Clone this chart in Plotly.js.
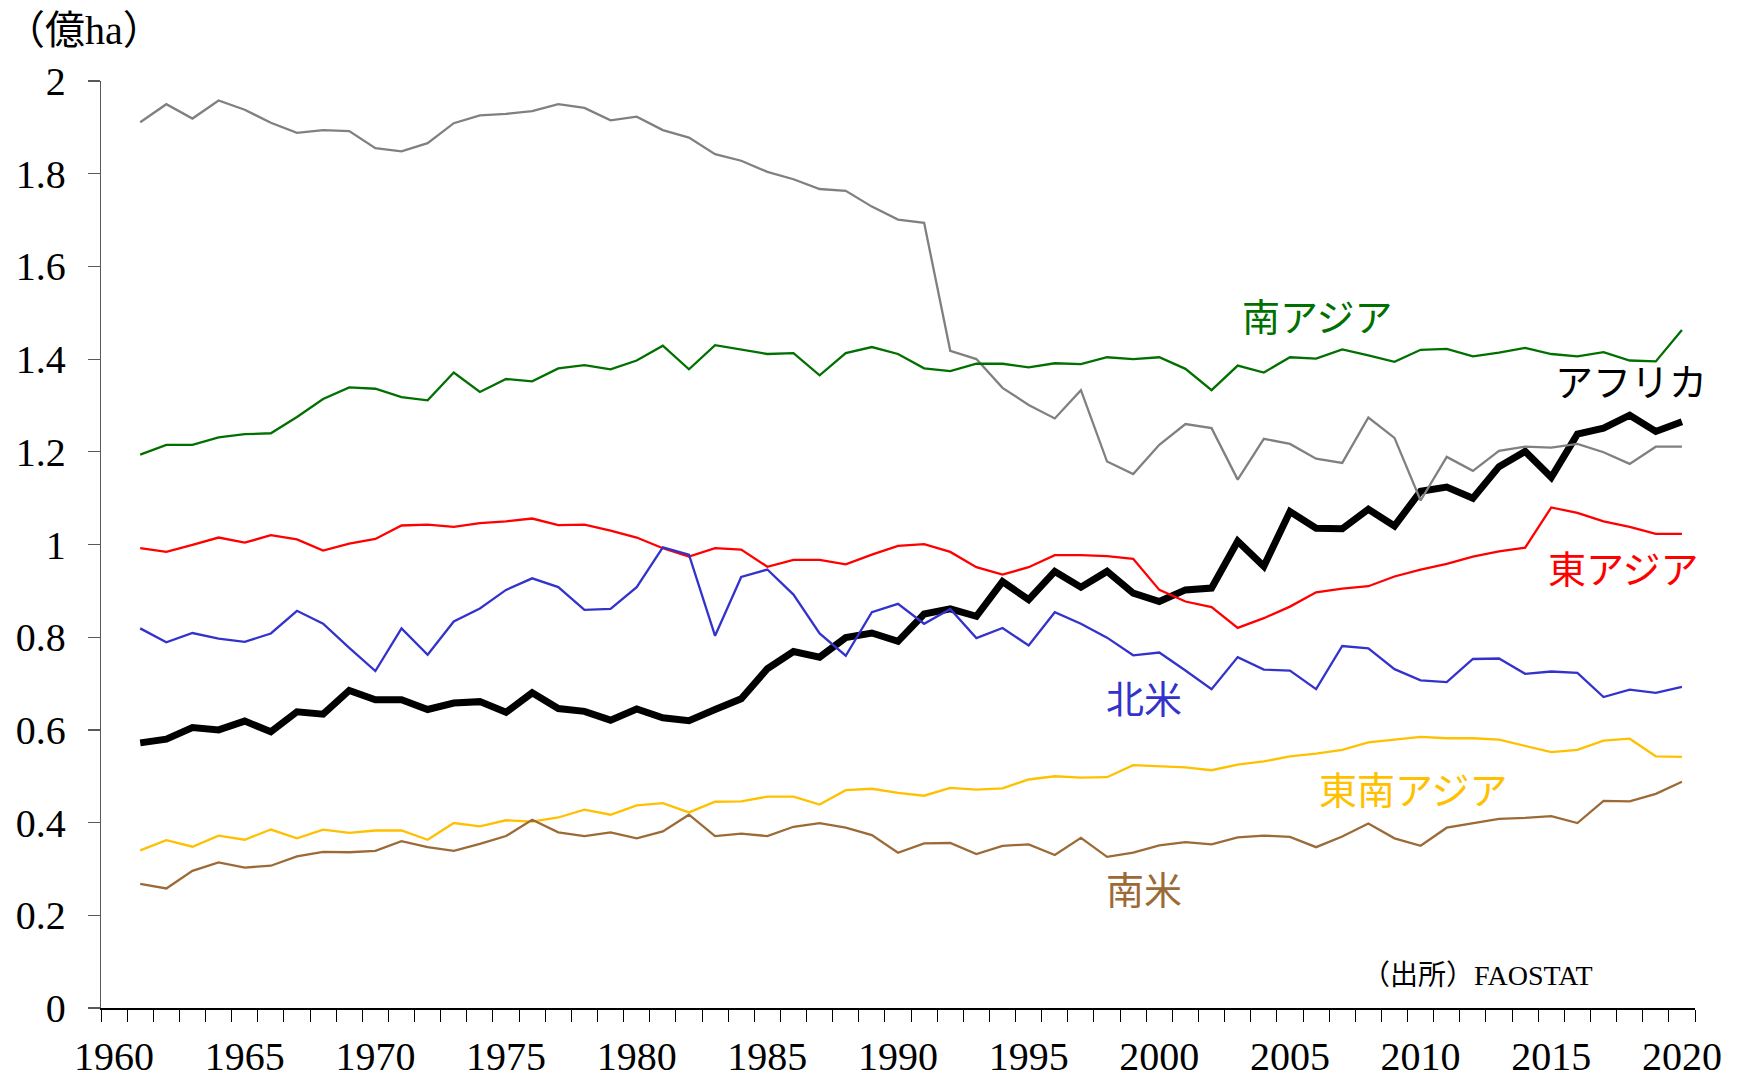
<!DOCTYPE html>
<html>
<head>
<meta charset="utf-8">
<script src="https://cdn.plot.ly/plotly-3.0.1.min.js"></script>
<style>
  html, body { margin: 0; padding: 0; background: #fff; }
  #chart { width: 1743px; height: 1078px; }
</style>
</head>
<body>
<div id="chart"></div>
<script>
// Years 1961-2020
const years = [];
for (let y = 1961; y <= 2020; y++) years.push(y);

// Area (億ha)
const africa = [
  0.572, 0.580, 0.605, 0.600, 0.619, 0.596, 0.639, 0.634, 0.685, 0.665,
  0.665, 0.644, 0.658, 0.661, 0.638, 0.680, 0.646, 0.640, 0.621, 0.645,
  0.626, 0.620, 0.644, 0.667, 0.732, 0.769, 0.757, 0.799, 0.809, 0.791,
  0.850, 0.861, 0.845, 0.920, 0.881, 0.942, 0.908, 0.942, 0.895, 0.877,
  0.902, 0.906, 1.007, 0.953, 1.071, 1.035, 1.034, 1.076, 1.040, 1.115,
  1.124, 1.100, 1.168, 1.201, 1.145, 1.238, 1.251, 1.279, 1.244, 1.265
];
const europe = [
  1.911, 1.950, 1.919, 1.958, 1.938, 1.910, 1.888, 1.894, 1.892, 1.855,
  1.848, 1.866, 1.909, 1.926, 1.929, 1.935, 1.950, 1.942, 1.915, 1.923,
  1.894, 1.878, 1.842, 1.828, 1.804, 1.788, 1.767, 1.763, 1.729, 1.701,
  1.694, 1.418, 1.400, 1.338, 1.301, 1.272, 1.333, 1.179, 1.152, 1.215,
  1.260, 1.251, 1.140, 1.228, 1.217, 1.185, 1.176, 1.274, 1.230, 1.095,
  1.189, 1.159, 1.202, 1.211, 1.209, 1.217, 1.199, 1.174, 1.211, 1.211
];
const southAsia = [
  1.194, 1.215, 1.215, 1.231, 1.238, 1.240, 1.275, 1.314, 1.339, 1.336,
  1.318, 1.311, 1.371, 1.329, 1.357, 1.352, 1.380, 1.387, 1.378, 1.397,
  1.429, 1.378, 1.430, 1.420, 1.411, 1.413, 1.365, 1.413, 1.426, 1.411,
  1.380, 1.374, 1.390, 1.390, 1.382, 1.391, 1.389, 1.404, 1.400, 1.404,
  1.379, 1.333, 1.386, 1.371, 1.404, 1.401, 1.421, 1.408, 1.394, 1.420,
  1.422, 1.406, 1.414, 1.424, 1.411, 1.406, 1.415, 1.397, 1.395, 1.463
];
const eastAsia = [
  0.992, 0.984, 0.999, 1.015, 1.004, 1.020, 1.011, 0.987, 1.002, 1.012,
  1.041, 1.043, 1.038, 1.046, 1.050, 1.056, 1.042, 1.043, 1.030, 1.015,
  0.992, 0.974, 0.992, 0.989, 0.952, 0.967, 0.967, 0.957, 0.978, 0.997,
  1.001, 0.984, 0.951, 0.935, 0.951, 0.977, 0.977, 0.975, 0.969, 0.902,
  0.877, 0.865, 0.820, 0.841, 0.866, 0.897, 0.905, 0.910, 0.931, 0.946,
  0.958, 0.974, 0.985, 0.993, 1.080, 1.068, 1.050, 1.038, 1.023, 1.023
];
const northAmerica = [
  0.819, 0.789, 0.809, 0.797, 0.790, 0.808, 0.857, 0.829, 0.777, 0.727,
  0.819, 0.762, 0.834, 0.862, 0.902, 0.927, 0.908, 0.859, 0.861, 0.908,
  0.994, 0.978, 0.803, 0.930, 0.946, 0.892, 0.808, 0.760, 0.854, 0.872,
  0.829, 0.861, 0.798, 0.820, 0.782, 0.854, 0.829, 0.799, 0.761, 0.767,
  0.728, 0.688, 0.757, 0.730, 0.728, 0.688, 0.781, 0.776, 0.731, 0.707,
  0.703, 0.753, 0.754, 0.721, 0.726, 0.723, 0.671, 0.687, 0.680, 0.693
];
const southeastAsia = [
  0.340, 0.362, 0.348, 0.372, 0.363, 0.385, 0.366, 0.385, 0.378, 0.383,
  0.383, 0.363, 0.399, 0.392, 0.405, 0.402, 0.411, 0.428, 0.417, 0.437,
  0.442, 0.422, 0.445, 0.446, 0.456, 0.456, 0.439, 0.470, 0.473, 0.464,
  0.458, 0.475, 0.471, 0.474, 0.493, 0.500, 0.497, 0.498, 0.524, 0.521,
  0.519, 0.513, 0.525, 0.532, 0.543, 0.549, 0.557, 0.573, 0.579, 0.585,
  0.582, 0.582, 0.579, 0.566, 0.552, 0.557, 0.577, 0.581, 0.543, 0.542
];
const southAmerica = [
  0.268, 0.258, 0.296, 0.314, 0.303, 0.307, 0.327, 0.337, 0.336, 0.339,
  0.360, 0.347, 0.339, 0.354, 0.371, 0.406, 0.379, 0.371, 0.379, 0.366,
  0.381, 0.417, 0.371, 0.376, 0.371, 0.391, 0.399, 0.389, 0.373, 0.335,
  0.355, 0.356, 0.332, 0.350, 0.353, 0.330, 0.367, 0.326, 0.335, 0.351,
  0.358, 0.353, 0.368, 0.372, 0.369, 0.347, 0.370, 0.398, 0.366, 0.350,
  0.389, 0.399, 0.408, 0.410, 0.414, 0.399, 0.447, 0.446, 0.462, 0.488
];

const xTickVals = [1960, 1965, 1970, 1975, 1980, 1985, 1990, 1995, 2000, 2005, 2010, 2015, 2020];
const xTickText = ['1960', '1965', '1970', '1975', '1980', '1985', '1990', '1995', '2000', '2005', '2010', '2015', '2020'];
const yTickVals = [0, 0.2, 0.4, 0.6, 0.8, 1, 1.2, 1.4, 1.6, 1.8, 2];
const yTickText = ['0', '0.2', '0.4', '0.6', '0.8', '1', '1.2', '1.4', '1.6', '1.8', '2'];

const seriesNames = ['アフリカ', '欧州', '南アジア', '東アジア', '北米', '東南アジア', '南米'];
const seriesData = [africa, europe, southAsia, eastAsia, northAmerica, southeastAsia, southAmerica];
const seriesColors = ['#000000', '#808080', '#007000', '#FF0000', '#3333CC', '#FFC000', '#9C6A36'];
const seriesWidths = [7, 2.3, 2.3, 2.3, 2.3, 2.3, 2.3];

const traces = seriesNames.map((n, i) => ({
  type: 'scatter', mode: 'lines', name: n, x: years, y: seriesData[i],
  line: { color: seriesColors[i], width: seriesWidths[i], shape: 'linear' },
  hoverinfo: 'skip', showlegend: false
}));

// label positions (x in year units, y in value units)
const labelX = [2018.05, 1977.46, 2006.03, 2017.74, 1999.42, 2009.71, 1999.42];
const labelY = [1.355, 2.002, 1.497, 0.952, 0.672, 0.4755, 0.260];
const labelColors = ['#000000', '#888888', '#007000', '#FF0000', '#3333CC', '#FFC000', '#9C6A36'];

const annotations = seriesNames.map((n, i) => ({
  text: n, x: labelX[i], y: labelY[i], xref: 'x', yref: 'y',
  xanchor: 'center', yanchor: 'middle', showarrow: false,
  font: { family: '"Noto Sans CJK JP", sans-serif', size: 38, color: labelColors[i] }
}));
annotations.push({
  text: '（億ha）', xref: 'paper', yref: 'paper', x: -0.0615, y: 1.055,
  xanchor: 'left', yanchor: 'middle', showarrow: false,
  font: { family: '"Liberation Serif", "Noto Sans CJK JP", serif', size: 40, color: '#000' }
});
annotations.push({
  text: '（出所）FAOSTAT', xref: 'paper', yref: 'paper', x: 0.79, y: 0.035,
  xanchor: 'left', yanchor: 'middle', showarrow: false,
  font: { family: '"Liberation Serif", "Noto Sans CJK JP", serif', size: 28, color: '#000' }
});

const layout = {
  width: 1743, height: 1078,
  margin: { l: 101, r: 48, t: 81, b: 70 },
  paper_bgcolor: '#ffffff', plot_bgcolor: '#ffffff',
  showlegend: false,
  font: { family: '"Liberation Serif", "Times New Roman", serif', size: 40, color: '#000' },
  xaxis: {
    range: [1959.5, 2020.5], showgrid: false, zeroline: false,
    showline: true, linecolor: '#000', linewidth: 1.5,
    tickmode: 'array', tickvals: xTickVals, ticktext: xTickText,
    ticks: '', ticklabelstandoff: 12,
    tickfont: { family: '"Liberation Serif", serif', size: 40, color: '#000' },
    minor: { ticks: 'outside', tick0: 1959.5, dtick: 1, ticklen: 12, tickwidth: 1, tickcolor: '#000', showgrid: false }
  },
  yaxis: {
    range: [0, 2], showgrid: false, zeroline: false,
    showline: true, linecolor: '#595959', linewidth: 1.2,
    tickmode: 'array', tickvals: yTickVals, ticktext: yTickText,
    ticks: 'outside', ticklen: 12, tickwidth: 1.2, tickcolor: '#595959',
    ticklabelstandoff: 14,
    tickfont: { family: '"Liberation Serif", serif', size: 40, color: '#000' }
  },
  annotations: annotations
};

Plotly.newPlot('chart', traces, layout, { displayModeBar: false, staticPlot: true });
</script>
</body>
</html>
